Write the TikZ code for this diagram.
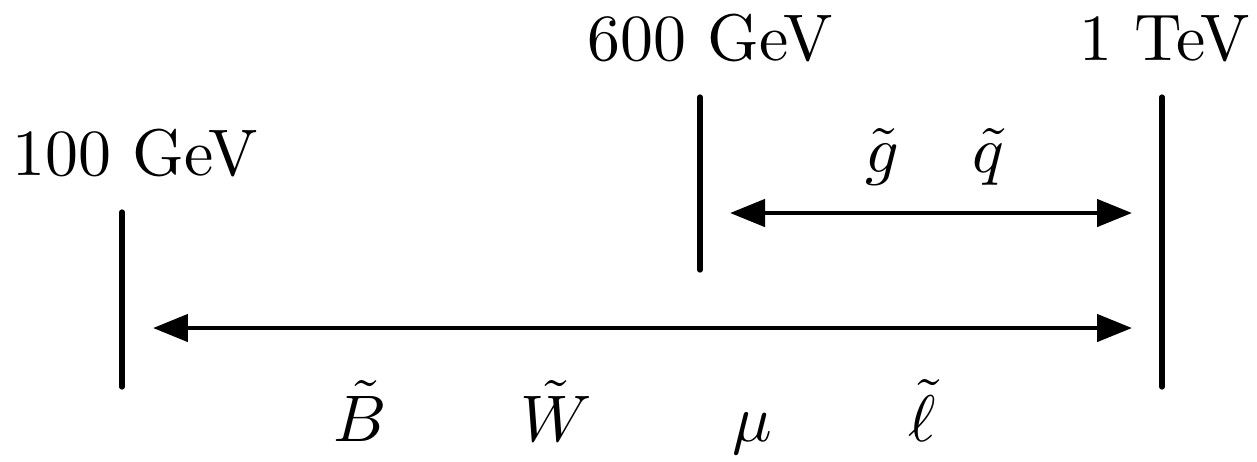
\documentclass[tikz,border=0pt]{standalone}
\usepackage{amsmath}
\usepackage{amssymb}
\usepackage{tikz}
\usetikzlibrary{arrows.meta, positioning, calc}

\begin{document}
\begin{tikzpicture}[x=0.02cm, y=-0.02cm,
  scalebar/.style={line width=3pt, line cap=round},
  massrange/.style={{Triangle[length=0.7cm, width=0.54cm]}-{Triangle[length=0.7cm, width=0.54cm]}, line width=2.6pt},
  lbl/.style={anchor=base, inner sep=0pt, scale=3.75, transform shape}
]
  \useasboundingbox (0,0) rectangle (1257,461);

  % ── scale bars ──────────────────────────────────────────────────────────
  \coordinate (lo top) at (122,212);  \coordinate (lo bot) at (122,387);
  \coordinate (mid top) at (700,97);  \coordinate (mid bot) at (700,270);
  \coordinate (hi top) at (1162,97);  \coordinate (hi bot) at (1162,387);
  \draw[scalebar] (lo top) -- (lo bot);
  \draw[scalebar] (mid top) -- (mid bot);
  \draw[scalebar] (hi top) -- (hi bot);

  % ── mass labels ─────────────────────────────────────────────────────────
  \node[lbl] (m100) at (135,175) {100 GeV};
  \node[lbl] (m600) at (710,60)  {600 GeV};
  \node[lbl] (m1t)  at (1165,60) {1 TeV};

  % ── ranges ──────────────────────────────────────────────────────────────
  \coordinate (up l) at (730,213);  \coordinate (up r) at (1132,213);
  \coordinate (dn l) at (153,328);  \coordinate (dn r) at (1132,328);
  \draw[massrange] (up l) -- (up r);    % gluino, squarks
  \draw[massrange] (dn l) -- (dn r);    % electroweak states

  % ── particles ───────────────────────────────────────────────────────────
  \node[lbl] (gl) at (882,172) {$\tilde{g}$};
  \node[lbl] (sq) at (988,172) {$\tilde{q}$};
  \node[lbl] (bino)  at (360,441) {$\tilde{B}$};
  \node[lbl] (wino)  at (556,441) {$\tilde{W}$};
  \node[lbl] (mu)    at (752,441) {$\mu$};
  \node[lbl] (slep)  at (922,441) {$\tilde{\ell}$};
\end{tikzpicture}
\end{document}
